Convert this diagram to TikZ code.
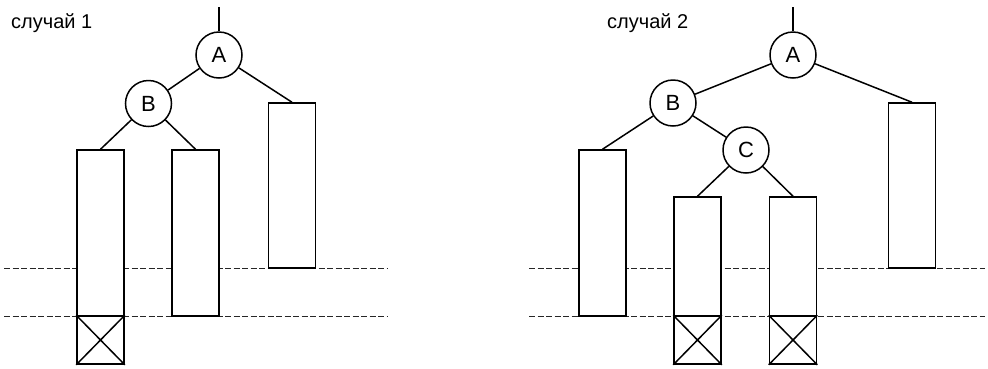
\documentclass[tikz,border=0pt]{standalone}
\usepackage{fontspec}
\setmainfont{Liberation Sans}
\begin{document}
\begin{tikzpicture}[x=1pt,y=-1pt,
  every node/.style={font=\fontsize{20}{24}\selectfont},
  knot/.style={circle,draw,line width=1.5pt,minimum size=46pt,inner sep=0pt,fill=white,font=\fontsize{22}{26}\selectfont},
  bar/.style={rectangle,draw,line width=1.5pt,fill=white,inner sep=0pt,minimum width=47pt},
  edge/.style={line width=1.5pt},
  level/.style={line width=1pt,dash pattern=on 6pt off 2.5pt,black!85}]
\useasboundingbox (0,0) rectangle (988,368);
% dashed levels
\coordinate (d1a) at (4,268);  \coordinate (d1b) at (387,268);
\coordinate (d2a) at (4,316);  \coordinate (d2b) at (387,316);
\coordinate (d3a) at (529,268); \coordinate (d3b) at (985,268);
\coordinate (d4a) at (529,316); \coordinate (d4b) at (985,316);
\draw[level] (d1a) -- (d1b);
\draw[level] (d2a) -- (d2b);
\draw[level] (d3a) -- (d3b);
\draw[level] (d4a) -- (d4b);
% labels
\node[anchor=base west,inner sep=0pt] (t1) at (11,28) {случай 1};
\node[anchor=base west,inner sep=0pt] (t2) at (607,28) {случай 2};
% ---- case 1
\node[knot] (A1) at (219,55) {A};
\node[knot] (B1) at (148.5,103.5) {B};
\node[bar,minimum height=165pt] (R1) at (292,185.5) {};
\node[bar,minimum height=166pt] (L1) at (100.5,233) {};
\node[bar,minimum height=166pt] (M1) at (195.5,233) {};
\node[bar,minimum height=48pt] (X1) at (100.5,340) {};
\draw[edge] (X1.north west) -- (X1.south east) (X1.north east) -- (X1.south west);
\coordinate (s1) at (219,7);
\draw[edge] (s1) -- (A1);
\draw[edge] (A1) -- (B1);
\draw[edge] (A1) -- (R1.north);
\draw[edge] (B1) -- (L1.north);
\draw[edge] (B1) -- (M1.north);
% ---- case 2
\node[knot] (A2) at (793,55) {A};
\node[knot] (B2) at (673,103) {B};
\node[knot] (C2) at (746,150) {C};
\node[bar,minimum height=165pt] (R2) at (912,185.5) {};
\node[bar,minimum height=166pt] (L2) at (602.5,233) {};
\node[bar,minimum height=119pt] (M2a) at (697.5,256.5) {};
\node[bar,minimum height=119pt] (M2b) at (793,256.5) {};
\node[bar,minimum height=48pt] (X2a) at (697.5,340) {};
\node[bar,minimum height=48pt] (X2b) at (793,340) {};
\draw[edge] (X2a.north west) -- (X2a.south east) (X2a.north east) -- (X2a.south west);
\draw[edge] (X2b.north west) -- (X2b.south east) (X2b.north east) -- (X2b.south west);
\coordinate (s2) at (793,7);
\draw[edge] (s2) -- (A2);
\draw[edge] (A2) -- (B2);
\draw[edge] (A2) -- (R2.north);
\draw[edge] (B2) -- (L2.north);
\draw[edge] (B2) -- (C2);
\draw[edge] (C2) -- (M2a.north);
\draw[edge] (C2) -- (M2b.north);
\end{tikzpicture}
\end{document}
